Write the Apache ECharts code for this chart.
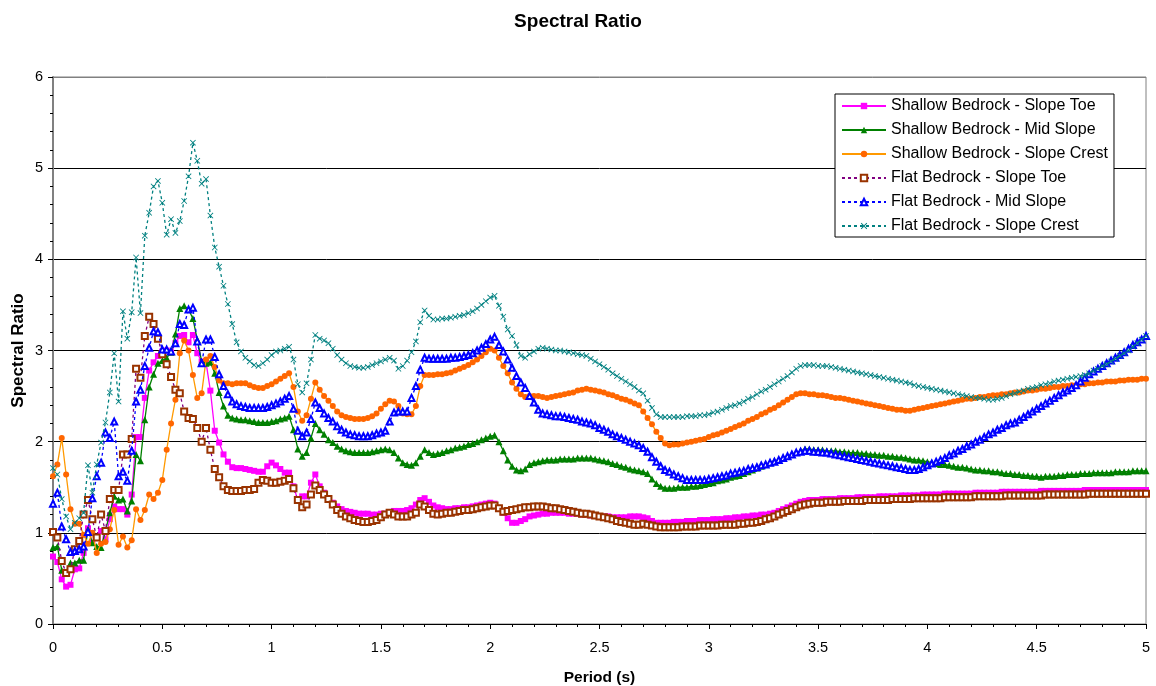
<!DOCTYPE html>
<html>
<head>
<meta charset="utf-8">
<script src="https://cdn.jsdelivr.net/npm/echarts@6/dist/echarts.min.js"></script>
<style>
html,body{margin:0;padding:0;background:#fff;}
#chart{width:1156px;height:686px;}
</style>
</head>
<body>
<div id="chart"></div>
<script>
// Period sampling: every 0.02 s from 0 to 5 s (251 points)
const periodStep = 0.02;
const xTicks = ['0','0.5','1','1.5','2','2.5','3','3.5','4','4.5','5'];
const seriesNames = [
  'Shallow Bedrock - Slope Toe',
  'Shallow Bedrock - Mid Slope',
  'Shallow Bedrock - Slope Crest',
  'Flat Bedrock - Slope Toe',
  'Flat Bedrock - Mid Slope',
  'Flat Bedrock - Slope Crest'
];

const shallowToe = [
0.74,0.68,0.49,0.41,0.43,0.60,0.61,0.78,1.05,0.89,
0.95,1.02,0.93,1.15,1.29,1.26,1.26,1.20,1.42,2.05,
2.05,2.48,2.78,2.87,2.94,2.99,3.00,2.98,3.08,3.16,
3.17,3.09,3.17,2.97,2.88,2.87,2.56,2.12,1.99,1.86,
1.78,1.72,1.71,1.71,1.70,1.69,1.68,1.67,1.67,1.73,
1.77,1.74,1.70,1.66,1.66,1.51,1.36,1.40,1.40,1.55,
1.64,1.51,1.44,1.38,1.33,1.29,1.26,1.24,1.23,1.22,
1.21,1.21,1.21,1.20,1.20,1.21,1.21,1.22,1.24,1.24,
1.24,1.25,1.27,1.31,1.36,1.38,1.34,1.30,1.28,1.27,
1.26,1.26,1.27,1.27,1.28,1.28,1.29,1.30,1.31,1.32,
1.33,1.32,1.27,1.22,1.16,1.11,1.11,1.13,1.15,1.18,
1.19,1.20,1.21,1.21,1.22,1.22,1.22,1.22,1.21,1.21,
1.21,1.20,1.20,1.19,1.19,1.18,1.18,1.18,1.17,1.17,
1.17,1.17,1.18,1.18,1.18,1.17,1.16,1.13,1.11,1.11,
1.11,1.11,1.12,1.12,1.12,1.13,1.13,1.13,1.14,1.14,
1.14,1.15,1.15,1.15,1.16,1.16,1.17,1.17,1.18,1.18,
1.19,1.19,1.20,1.20,1.21,1.22,1.24,1.26,1.28,1.30,
1.32,1.34,1.35,1.36,1.36,1.36,1.37,1.37,1.37,1.37,
1.38,1.38,1.38,1.38,1.39,1.39,1.39,1.39,1.39,1.40,
1.40,1.40,1.40,1.40,1.41,1.41,1.41,1.41,1.41,1.42,
1.42,1.42,1.42,1.42,1.43,1.43,1.43,1.43,1.43,1.43,
1.43,1.44,1.44,1.44,1.44,1.44,1.44,1.45,1.45,1.45,
1.45,1.45,1.45,1.45,1.45,1.45,1.46,1.46,1.46,1.46,
1.46,1.46,1.46,1.46,1.46,1.46,1.47,1.47,1.47,1.47,
1.47,1.47,1.47,1.47,1.47,1.47,1.47,1.47,1.47,1.47,
1.47];

const shallowMid = [
0.84,0.85,0.59,0.57,0.67,0.67,0.70,0.70,1.04,0.89,
0.85,0.84,1.02,1.22,1.40,1.36,1.37,1.24,1.35,1.86,
1.79,2.24,2.60,2.74,2.86,2.89,2.92,2.98,3.18,3.46,
3.49,3.45,3.35,3.12,2.88,2.86,2.87,2.75,2.54,2.39,
2.29,2.26,2.25,2.24,2.24,2.23,2.22,2.21,2.21,2.21,
2.22,2.23,2.25,2.26,2.28,2.13,1.92,1.84,1.88,2.04,
2.20,2.13,2.08,2.02,1.99,1.95,1.92,1.90,1.89,1.88,
1.88,1.88,1.88,1.89,1.90,1.91,1.92,1.91,1.88,1.82,
1.77,1.75,1.74,1.77,1.84,1.91,1.88,1.86,1.87,1.88,
1.90,1.91,1.93,1.94,1.95,1.97,1.98,2.00,2.02,2.04,
2.06,2.07,2.00,1.90,1.80,1.73,1.69,1.68,1.70,1.75,
1.77,1.78,1.79,1.80,1.80,1.80,1.81,1.81,1.81,1.81,
1.82,1.82,1.82,1.82,1.81,1.80,1.79,1.78,1.76,1.75,
1.73,1.72,1.70,1.69,1.68,1.67,1.65,1.59,1.54,1.51,
1.49,1.49,1.49,1.50,1.50,1.50,1.51,1.51,1.52,1.53,
1.54,1.55,1.57,1.58,1.59,1.61,1.62,1.63,1.65,1.67,
1.69,1.71,1.73,1.75,1.77,1.79,1.80,1.82,1.84,1.86,
1.88,1.90,1.92,1.92,1.91,1.91,1.91,1.90,1.90,1.90,
1.89,1.89,1.88,1.88,1.88,1.87,1.87,1.86,1.86,1.85,
1.85,1.84,1.84,1.83,1.83,1.82,1.81,1.80,1.80,1.79,
1.78,1.77,1.76,1.75,1.75,1.74,1.73,1.72,1.72,1.71,
1.70,1.69,1.69,1.68,1.68,1.67,1.67,1.66,1.65,1.65,
1.64,1.64,1.63,1.63,1.62,1.62,1.61,1.62,1.62,1.62,
1.63,1.63,1.64,1.64,1.64,1.65,1.65,1.65,1.66,1.66,
1.66,1.66,1.66,1.67,1.67,1.67,1.67,1.68,1.68,1.68,
1.68];

const shallowCrest = [
1.62,1.75,2.04,1.64,1.26,1.10,1.10,0.98,0.88,1.00,
0.78,0.88,0.90,1.04,1.25,0.87,0.96,0.84,0.92,1.26,
1.14,1.25,1.42,1.37,1.44,1.58,1.91,2.20,2.46,2.97,
3.11,3.00,2.73,2.48,2.53,2.90,2.94,2.82,2.67,2.64,
2.64,2.63,2.64,2.64,2.64,2.62,2.60,2.59,2.59,2.61,
2.63,2.66,2.69,2.72,2.75,2.60,2.33,2.23,2.29,2.47,
2.65,2.57,2.50,2.45,2.39,2.33,2.29,2.27,2.26,2.25,
2.25,2.25,2.26,2.28,2.31,2.36,2.41,2.45,2.44,2.39,
2.31,2.30,2.30,2.39,2.61,2.73,2.73,2.73,2.74,2.74,
2.75,2.76,2.78,2.80,2.82,2.84,2.87,2.90,2.94,2.98,
3.02,3.00,2.92,2.83,2.75,2.65,2.58,2.52,2.49,2.50,
2.50,2.50,2.49,2.48,2.49,2.50,2.51,2.52,2.53,2.54,
2.56,2.57,2.58,2.57,2.56,2.55,2.54,2.52,2.51,2.49,
2.47,2.46,2.44,2.42,2.40,2.33,2.26,2.19,2.11,2.04,
1.98,1.96,1.97,1.97,1.98,1.99,2.00,2.01,2.02,2.03,
2.05,2.07,2.08,2.10,2.12,2.14,2.16,2.18,2.20,2.23,
2.25,2.27,2.30,2.32,2.35,2.37,2.40,2.43,2.46,2.49,
2.52,2.53,2.53,2.52,2.52,2.51,2.51,2.50,2.49,2.48,
2.48,2.47,2.46,2.45,2.44,2.43,2.42,2.41,2.40,2.39,
2.38,2.37,2.36,2.35,2.35,2.34,2.34,2.35,2.36,2.37,
2.38,2.39,2.40,2.41,2.42,2.43,2.44,2.45,2.46,2.47,
2.47,2.48,2.49,2.49,2.50,2.51,2.51,2.52,2.52,2.53,
2.54,2.54,2.55,2.56,2.56,2.57,2.58,2.58,2.59,2.60,
2.60,2.61,2.61,2.62,2.62,2.63,2.63,2.64,2.64,2.65,
2.65,2.66,2.66,2.66,2.67,2.67,2.68,2.68,2.68,2.69,
2.69];

const flatToe = [
1.01,0.95,0.69,0.56,0.60,0.82,0.91,1.20,1.36,1.15,
0.95,1.20,1.02,1.37,1.47,1.47,1.86,1.86,2.03,2.80,
2.70,3.16,3.37,3.29,3.13,2.96,2.85,2.71,2.57,2.53,
2.33,2.26,2.25,2.15,2.00,2.15,1.91,1.70,1.61,1.51,
1.47,1.46,1.46,1.46,1.47,1.47,1.48,1.55,1.58,1.57,
1.55,1.55,1.56,1.57,1.59,1.49,1.36,1.28,1.31,1.42,
1.52,1.47,1.42,1.37,1.31,1.25,1.21,1.18,1.16,1.14,
1.13,1.12,1.12,1.13,1.14,1.17,1.20,1.22,1.20,1.18,
1.18,1.18,1.20,1.22,1.31,1.29,1.25,1.21,1.20,1.21,
1.22,1.22,1.23,1.24,1.25,1.25,1.26,1.27,1.28,1.29,
1.30,1.30,1.27,1.23,1.24,1.25,1.26,1.27,1.28,1.28,
1.29,1.29,1.29,1.28,1.27,1.27,1.26,1.25,1.24,1.23,
1.22,1.21,1.21,1.20,1.19,1.18,1.17,1.16,1.15,1.13,
1.12,1.11,1.10,1.09,1.09,1.10,1.09,1.08,1.07,1.06,
1.06,1.06,1.06,1.06,1.07,1.07,1.07,1.07,1.08,1.08,
1.08,1.08,1.08,1.09,1.09,1.09,1.09,1.10,1.10,1.11,
1.11,1.12,1.13,1.15,1.16,1.18,1.20,1.22,1.24,1.26,
1.28,1.30,1.31,1.32,1.33,1.33,1.33,1.34,1.34,1.34,
1.34,1.35,1.35,1.35,1.35,1.35,1.36,1.36,1.36,1.36,
1.36,1.36,1.37,1.37,1.37,1.37,1.37,1.38,1.38,1.38,
1.38,1.38,1.38,1.38,1.39,1.39,1.39,1.39,1.39,1.39,
1.39,1.40,1.40,1.40,1.40,1.40,1.40,1.40,1.41,1.41,
1.41,1.41,1.41,1.41,1.41,1.41,1.41,1.42,1.42,1.42,
1.42,1.42,1.42,1.42,1.42,1.42,1.42,1.43,1.43,1.43,
1.43,1.43,1.43,1.43,1.43,1.43,1.43,1.43,1.43,1.43,
1.43];

const flatMid = [
1.32,1.44,1.07,0.93,0.79,0.80,0.82,0.85,1.01,1.38,
1.62,1.77,2.10,2.04,2.22,1.62,1.67,1.57,1.90,2.44,
2.57,2.83,3.03,3.21,3.20,3.01,3.01,2.99,3.08,3.29,
3.28,3.45,3.47,3.10,2.86,3.12,3.12,2.93,2.74,2.61,
2.52,2.44,2.41,2.39,2.38,2.37,2.37,2.37,2.37,2.38,
2.40,2.42,2.44,2.47,2.50,2.36,2.12,2.06,2.10,2.25,
2.43,2.37,2.31,2.26,2.22,2.17,2.13,2.10,2.08,2.07,
2.06,2.06,2.06,2.07,2.09,2.10,2.12,2.22,2.32,2.33,
2.33,2.33,2.48,2.61,2.79,2.92,2.91,2.91,2.91,2.91,
2.91,2.92,2.92,2.93,2.94,2.95,2.97,3.00,3.03,3.07,
3.12,3.15,3.06,2.99,2.90,2.81,2.72,2.65,2.59,2.50,
2.43,2.35,2.31,2.30,2.29,2.28,2.28,2.27,2.26,2.25,
2.24,2.22,2.21,2.20,2.18,2.15,2.13,2.11,2.08,2.06,
2.04,2.02,2.00,1.98,1.96,1.93,1.89,1.83,1.78,1.73,
1.69,1.67,1.64,1.62,1.60,1.58,1.58,1.58,1.58,1.58,
1.59,1.60,1.61,1.62,1.63,1.65,1.66,1.67,1.68,1.70,
1.71,1.72,1.74,1.75,1.77,1.78,1.80,1.82,1.84,1.86,
1.88,1.89,1.90,1.90,1.89,1.89,1.88,1.88,1.87,1.86,
1.85,1.84,1.83,1.82,1.81,1.80,1.79,1.78,1.77,1.76,
1.75,1.74,1.73,1.72,1.71,1.70,1.69,1.69,1.70,1.72,
1.74,1.76,1.78,1.80,1.82,1.85,1.87,1.90,1.92,1.95,
1.97,2.00,2.02,2.05,2.08,2.10,2.13,2.15,2.18,2.20,
2.21,2.24,2.27,2.30,2.33,2.36,2.39,2.42,2.45,2.48,
2.51,2.54,2.56,2.59,2.62,2.66,2.70,2.74,2.77,2.80,
2.83,2.86,2.89,2.92,2.95,2.98,3.02,3.06,3.09,3.12,
3.16];

const flatCrest = [
1.71,1.64,1.37,1.18,1.04,1.11,1.16,1.22,1.74,1.44,
1.75,1.99,2.21,2.54,2.97,2.44,3.43,3.13,3.42,4.02,
3.41,4.26,4.51,4.80,4.86,4.62,4.27,4.44,4.29,4.42,
4.64,4.91,5.28,5.08,4.83,4.88,4.48,4.13,3.92,3.71,
3.51,3.29,3.09,2.99,2.92,2.88,2.84,2.83,2.86,2.90,
2.95,2.99,3.00,3.02,3.04,2.90,2.63,2.54,2.64,2.90,
3.17,3.13,3.11,3.08,3.02,2.95,2.90,2.86,2.83,2.82,
2.81,2.81,2.82,2.84,2.86,2.88,2.90,2.92,2.89,2.80,
2.83,2.89,2.98,3.10,3.31,3.44,3.38,3.34,3.34,3.35,
3.35,3.36,3.37,3.38,3.39,3.41,3.43,3.46,3.50,3.54,
3.58,3.60,3.49,3.37,3.23,3.16,3.06,2.94,2.92,2.96,
2.99,3.02,3.03,3.02,3.01,3.00,3.00,2.99,2.98,2.97,
2.96,2.95,2.94,2.91,2.88,2.85,2.82,2.79,2.75,2.72,
2.69,2.66,2.63,2.60,2.56,2.53,2.45,2.37,2.30,2.27,
2.27,2.27,2.27,2.27,2.27,2.28,2.28,2.28,2.29,2.29,
2.30,2.32,2.33,2.35,2.37,2.39,2.40,2.42,2.44,2.47,
2.49,2.52,2.55,2.57,2.60,2.63,2.66,2.69,2.72,2.76,
2.80,2.83,2.84,2.84,2.84,2.83,2.83,2.83,2.82,2.81,
2.80,2.79,2.78,2.77,2.76,2.75,2.74,2.73,2.72,2.71,
2.70,2.69,2.68,2.67,2.66,2.65,2.64,2.62,2.61,2.60,
2.59,2.58,2.57,2.56,2.55,2.54,2.53,2.52,2.51,2.50,
2.49,2.48,2.48,2.47,2.46,2.46,2.47,2.48,2.50,2.52,
2.53,2.55,2.56,2.58,2.59,2.60,2.62,2.63,2.64,2.66,
2.67,2.68,2.69,2.70,2.71,2.72,2.73,2.75,2.78,2.80,
2.83,2.85,2.88,2.91,2.94,2.97,3.00,3.04,3.08,3.12,
3.16];

function pairs(values) {
  return values.map(function (v, i) { return [+(i * periodStep).toFixed(2), v]; });
}

const FONT = '"Liberation Sans", Arial, Helvetica, sans-serif';
const xCross = 'path://M1,0L5,4L9,0L10,1L6,5L10,9L9,10L5,6L1,10L0,9L4,5L0,1Z';

const styles = [
  { line: '#FF00FF', item: '#FF00FF', type: 'solid', symbol: 'rect', size: 6 },
  { line: '#008000', item: '#008000', type: 'solid', symbol: 'triangle', size: 7 },
  { line: '#FF9900', item: '#FF6600', type: 'solid', symbol: 'circle', size: 6 },
  { line: '#800080', item: '#993300', type: [3, 3], symbol: 'emptyRect', size: 6 },
  { line: '#0000FF', item: '#0000FF', type: [3, 3], symbol: 'emptyTriangle', size: 6 },
  { line: '#008080', item: '#008080', type: [3, 3], symbol: xCross, size: 6 }
];
const allValues = [shallowToe, shallowMid, shallowCrest, flatToe, flatMid, flatCrest];

const series = allValues.map(function (vals, k) {
  const s = styles[k];
  return {
    name: seriesNames[k],
    type: 'line',
    data: pairs(vals),
    symbol: s.symbol,
    symbolSize: s.size,
    showAllSymbol: true,
    lineStyle: { color: s.line, width: 1.3, type: s.type },
    itemStyle: { color: s.item, borderWidth: 1.1 },
    emphasis: { disabled: true },
    z: 2 + k
  };
});

const chart = echarts.init(document.getElementById('chart'), null, { renderer: 'canvas' });
chart.setOption({
  animation: false,
  backgroundColor: '#ffffff',
  textStyle: { fontFamily: FONT },
  title: {
    text: 'Spectral Ratio',
    left: 'center',
    top: 7,
    textStyle: { fontFamily: FONT, fontWeight: 'bold', fontSize: 19, color: '#000' }
  },
  legend: {
    orient: 'vertical',
    left: 835,
    top: 94,
    padding: [4, 6, 3, 6],
    itemWidth: 44,
    itemHeight: 8,
    itemGap: 8,
    backgroundColor: '#ffffff',
    borderColor: '#000000',
    borderWidth: 1,
    textStyle: { fontFamily: FONT, fontSize: 16, color: '#000', padding: [0, 0, 0, 0] },
    data: seriesNames
  },
  grid: {
    left: 53, right: 10, top: 77, bottom: 62,
    containLabel: false,
    outerBoundsMode: 'none',
    show: true, borderColor: '#808080', borderWidth: 1, backgroundColor: 'transparent'
  },
  xAxis: {
    type: 'value',
    min: 0, max: 5, interval: 0.5,
    name: 'Period (s)',
    nameLocation: 'middle',
    nameGap: 46,
    nameMoveOverlap: false,
    nameTextStyle: { fontFamily: FONT, fontWeight: 'bold', fontSize: 15.5, color: '#000' },
    axisLine: { lineStyle: { color: '#000', width: 1 } },
    axisTick: { show: true, inside: false, length: 5, lineStyle: { color: '#000' } },
    minorTick: { show: true, splitNumber: 5, length: 3, lineStyle: { color: '#000' } },
    axisLabel: {
      fontFamily: FONT, fontSize: 14.5, color: '#000', margin: 16,
      formatter: function (v) { return xTicks[Math.round(v / 0.5)]; }
    },
    splitLine: { show: false }
  },
  yAxis: {
    type: 'value',
    min: 0, max: 6, interval: 1,
    name: 'Spectral Ratio',
    nameLocation: 'middle',
    nameGap: 26,
    nameMoveOverlap: false,
    nameRotate: 90,
    nameTextStyle: { fontFamily: FONT, fontWeight: 'bold', fontSize: 17, color: '#000' },
    axisLine: { show: true, lineStyle: { color: '#808080', width: 2 } },
    axisTick: { show: true, inside: false, length: 5, lineStyle: { color: '#000' } },
    minorTick: { show: true, splitNumber: 5, length: 3, lineStyle: { color: '#000' } },
    axisLabel: { fontFamily: FONT, fontSize: 14.5, color: '#000', margin: 10 },
    splitLine: { show: true, lineStyle: { color: ['#000', '#000', '#000', '#000', '#000', '#000', '#808080'], width: 1 } }
  },
  series: series
});
</script>
</body>
</html>
